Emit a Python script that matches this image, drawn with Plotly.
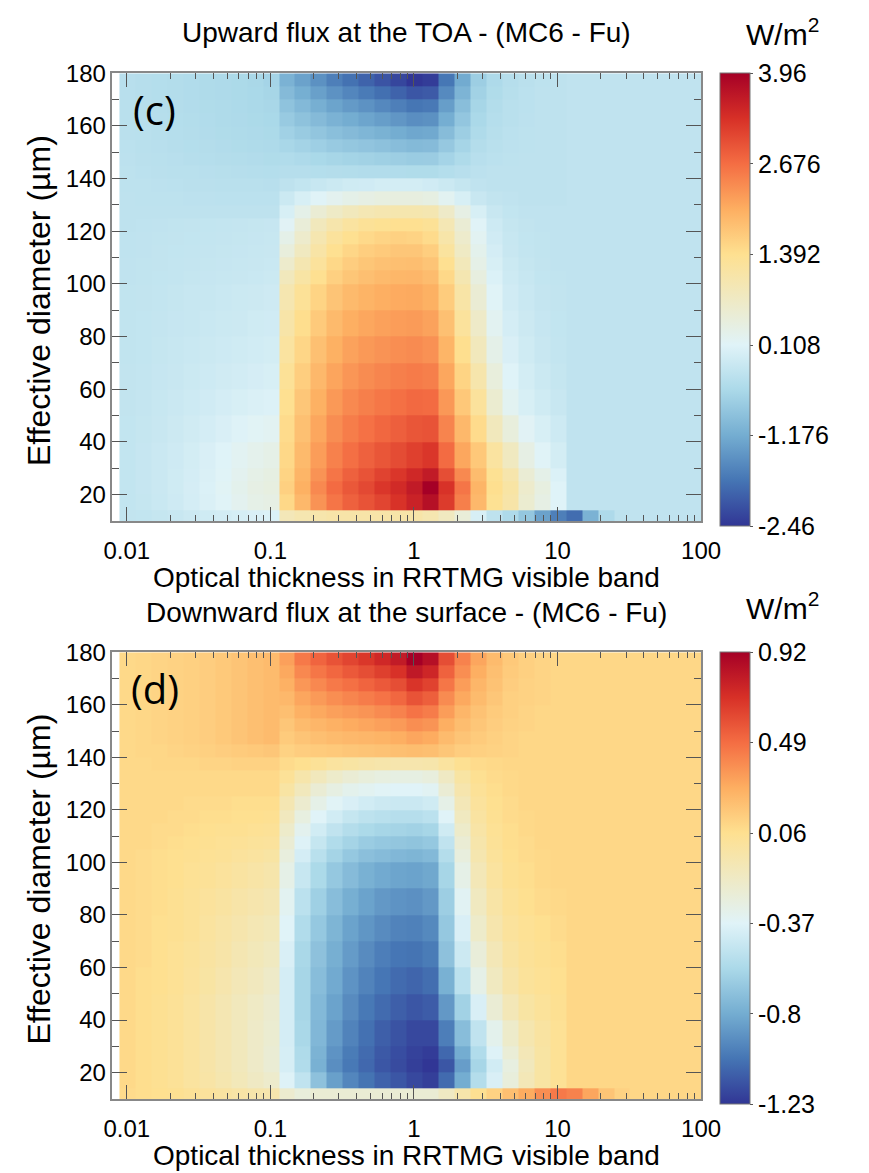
import numpy as np
import plotly.graph_objects as go

# ---------------------------------------------------------------------------
# Grid: optical thickness cells (9 per decade, given as cell edges) and
# effective-diameter rows (edges, in micrometres)
# ---------------------------------------------------------------------------
tau_edges = 10 ** (-2.051 + np.arange(38) / 9.0)
deff_edges = [10, 14, 20, 25, 30, 40, 50, 60, 70, 80, 90, 100,
              105, 110, 115, 120, 125, 130, 135, 140, 145, 150,
              155, 160, 165, 170, 175, 180]

# ---------------------------------------------------------------------------
# (c) TOA upward flux difference, W/m2.  Rows run from the smallest diameter
# to the largest; each row is split into thin / middle / thick tau columns.
# ---------------------------------------------------------------------------
toa_thin = [
    [-0.26, -0.25, -0.22, -0.18, -0.14, -0.10, -0.06, -0.02, 0.02, 0.05],
    [-0.25, -0.22, -0.17, -0.11, -0.04, 0.04, 0.12, 0.22, 0.32, 0.36],
    [-0.25, -0.21, -0.16, -0.10, -0.03, 0.05, 0.14, 0.25, 0.35, 0.40],
    [-0.25, -0.21, -0.16, -0.10, -0.04, 0.04, 0.12, 0.22, 0.32, 0.38],
    [-0.25, -0.21, -0.16, -0.11, -0.05, 0.02, 0.10, 0.18, 0.26, 0.32],
    [-0.25, -0.22, -0.18, -0.14, -0.09, -0.04, 0.02, 0.08, 0.14, 0.18],
    [-0.26, -0.23, -0.20, -0.16, -0.12, -0.08, -0.04, 0.00, 0.04, 0.06],
    [-0.26, -0.24, -0.21, -0.18, -0.15, -0.12, -0.09, -0.06, -0.03, 0.00],
    [-0.27, -0.25, -0.22, -0.20, -0.17, -0.15, -0.12, -0.10, -0.07, -0.05],
    [-0.27, -0.25, -0.23, -0.21, -0.19, -0.17, -0.15, -0.13, -0.10, -0.08],
    [-0.27, -0.26, -0.24, -0.22, -0.20, -0.19, -0.17, -0.15, -0.13, -0.11],
    [-0.28, -0.27, -0.25, -0.24, -0.22, -0.21, -0.20, -0.18, -0.17, -0.15],
    [-0.28, -0.27, -0.26, -0.24, -0.23, -0.22, -0.21, -0.20, -0.18, -0.17],
    [-0.29, -0.28, -0.26, -0.25, -0.24, -0.23, -0.22, -0.21, -0.20, -0.18],
    [-0.29, -0.28, -0.27, -0.26, -0.25, -0.24, -0.23, -0.22, -0.21, -0.20],
    [-0.30, -0.29, -0.28, -0.27, -0.26, -0.25, -0.24, -0.23, -0.22, -0.21],
    [-0.30, -0.30, -0.30, -0.30, -0.30, -0.30, -0.30, -0.30, -0.30, -0.30],
    [-0.30, -0.31, -0.32, -0.32, -0.33, -0.33, -0.34, -0.34, -0.34, -0.34],
    [-0.31, -0.32, -0.33, -0.34, -0.35, -0.35, -0.36, -0.37, -0.37, -0.38],
    [-0.32, -0.34, -0.35, -0.36, -0.37, -0.38, -0.39, -0.40, -0.41, -0.42],
    [-0.33, -0.35, -0.37, -0.38, -0.40, -0.41, -0.43, -0.44, -0.45, -0.47],
    [-0.34, -0.36, -0.38, -0.40, -0.42, -0.43, -0.45, -0.47, -0.48, -0.50],
    [-0.35, -0.37, -0.39, -0.41, -0.43, -0.45, -0.47, -0.49, -0.50, -0.52],
    [-0.36, -0.38, -0.40, -0.42, -0.44, -0.46, -0.48, -0.50, -0.52, -0.54],
    [-0.37, -0.39, -0.41, -0.43, -0.45, -0.47, -0.49, -0.51, -0.53, -0.56],
    [-0.38, -0.40, -0.42, -0.44, -0.46, -0.48, -0.50, -0.52, -0.54, -0.58],
    [-0.38, -0.40, -0.42, -0.44, -0.46, -0.48, -0.50, -0.52, -0.55, -0.60],
]
toa_mid = [
    [0.90, 1.00, 1.05, 1.10, 1.10, 1.10, 1.10, 1.10, 1.10, 1.00, 0.80, 0.50, 0.00, -0.30, -0.50, -0.80, -1.30, -1.70],
    [1.50, 1.90, 2.30, 2.60, 2.80, 2.95, 3.10, 3.30, 3.50, 3.75, 3.20, 2.50, 1.90, 1.35, 1.10, 0.60, 0.35, 0.10],
    [1.60, 2.00, 2.40, 2.70, 2.90, 3.05, 3.25, 3.40, 3.60, 3.96, 3.30, 2.60, 1.95, 1.40, 1.15, 0.65, 0.40, 0.10],
    [1.55, 1.95, 2.30, 2.60, 2.80, 2.95, 3.12, 3.25, 3.42, 3.60, 3.00, 2.40, 1.85, 1.35, 1.05, 0.55, 0.30, 0.05],
    [1.50, 1.88, 2.20, 2.48, 2.66, 2.80, 2.92, 3.02, 3.15, 3.25, 2.70, 2.10, 1.70, 1.20, 0.80, 0.35, 0.12, -0.05],
    [1.45, 1.80, 2.10, 2.36, 2.52, 2.64, 2.74, 2.82, 2.92, 2.95, 2.45, 1.90, 1.45, 0.85, 0.45, 0.15, 0.00, -0.12],
    [1.38, 1.72, 2.00, 2.24, 2.40, 2.50, 2.58, 2.65, 2.72, 2.70, 2.25, 1.70, 1.25, 0.60, 0.20, 0.00, -0.10, -0.18],
    [1.30, 1.62, 1.90, 2.12, 2.27, 2.37, 2.44, 2.50, 2.54, 2.50, 2.10, 1.55, 1.05, 0.45, 0.10, -0.05, -0.15, -0.22],
    [1.20, 1.52, 1.80, 2.00, 2.15, 2.24, 2.30, 2.35, 2.38, 2.32, 1.95, 1.40, 0.85, 0.30, 0.02, -0.10, -0.18, -0.24],
    [1.10, 1.42, 1.68, 1.88, 2.02, 2.10, 2.16, 2.20, 2.22, 2.15, 1.80, 1.25, 0.70, 0.20, -0.04, -0.14, -0.21, -0.25],
    [1.00, 1.30, 1.55, 1.75, 1.88, 1.96, 2.02, 2.06, 2.07, 2.00, 1.65, 1.12, 0.55, 0.12, -0.08, -0.17, -0.23, -0.26],
    [0.85, 1.15, 1.38, 1.60, 1.73, 1.82, 1.88, 1.92, 1.93, 1.86, 1.50, 0.98, 0.42, 0.05, -0.12, -0.20, -0.25, -0.27],
    [0.65, 0.98, 1.25, 1.50, 1.63, 1.73, 1.79, 1.82, 1.83, 1.75, 1.38, 0.87, 0.32, 0.00, -0.15, -0.22, -0.26, -0.28],
    [0.45, 0.80, 1.12, 1.38, 1.52, 1.62, 1.68, 1.72, 1.72, 1.62, 1.22, 0.75, 0.25, -0.04, -0.18, -0.24, -0.27, -0.28],
    [0.30, 0.65, 1.00, 1.25, 1.38, 1.48, 1.54, 1.58, 1.56, 1.45, 1.08, 0.65, 0.18, -0.08, -0.20, -0.25, -0.27, -0.28],
    [0.15, 0.50, 0.85, 1.05, 1.20, 1.30, 1.35, 1.38, 1.38, 1.32, 0.95, 0.55, 0.12, -0.12, -0.22, -0.26, -0.28, -0.28],
    [0.00, 0.30, 0.55, 0.72, 0.85, 0.95, 1.00, 1.02, 1.02, 0.98, 0.70, 0.35, 0.00, -0.18, -0.25, -0.28, -0.28, -0.28],
    [-0.15, 0.00, 0.12, 0.22, 0.30, 0.36, 0.40, 0.42, 0.42, 0.38, 0.20, 0.00, -0.18, -0.26, -0.28, -0.30, -0.30, -0.30],
    [-0.30, -0.25, -0.20, -0.15, -0.10, -0.08, -0.05, -0.05, -0.05, -0.08, -0.15, -0.22, -0.28, -0.30, -0.30, -0.30, -0.30, -0.30],
    [-0.40, -0.40, -0.42, -0.43, -0.44, -0.45, -0.45, -0.46, -0.47, -0.47, -0.42, -0.38, -0.33, -0.30, -0.30, -0.30, -0.30, -0.30],
    [-0.46, -0.50, -0.54, -0.58, -0.61, -0.64, -0.67, -0.70, -0.73, -0.72, -0.60, -0.48, -0.38, -0.34, -0.32, -0.30, -0.30, -0.30],
    [-0.56, -0.62, -0.68, -0.75, -0.80, -0.84, -0.89, -0.94, -0.99, -0.97, -0.78, -0.59, -0.43, -0.36, -0.33, -0.31, -0.30, -0.30],
    [-0.65, -0.74, -0.83, -0.92, -0.98, -1.05, -1.11, -1.18, -1.25, -1.22, -0.96, -0.70, -0.48, -0.39, -0.34, -0.32, -0.30, -0.30],
    [-0.76, -0.87, -0.98, -1.10, -1.18, -1.27, -1.35, -1.44, -1.53, -1.50, -1.16, -0.81, -0.53, -0.41, -0.36, -0.33, -0.30, -0.30],
    [-0.86, -1.00, -1.14, -1.28, -1.39, -1.49, -1.60, -1.70, -1.81, -1.77, -1.35, -0.93, -0.58, -0.44, -0.37, -0.34, -0.30, -0.30],
    [-0.98, -1.15, -1.32, -1.49, -1.62, -1.75, -1.87, -2.00, -2.13, -2.09, -1.58, -1.07, -0.64, -0.47, -0.39, -0.34, -0.30, -0.30],
    [-1.10, -1.30, -1.50, -1.70, -1.85, -2.00, -2.15, -2.30, -2.46, -2.40, -1.80, -1.20, -0.70, -0.50, -0.40, -0.35, -0.32, -0.30],
]
toa_thick = [[-1.90, -1.10, -0.50, -0.32, -0.28, -0.28, -0.28, -0.28, -0.28]] + \
            [[-0.28, -0.28, -0.28, -0.28, -0.28, -0.28, -0.28, -0.28, -0.28] for _ in range(26)]

# ---------------------------------------------------------------------------
# (d) Surface downward flux difference, W/m2 (same layout as above)
# ---------------------------------------------------------------------------
sfc_thin = [
    [0.08, 0.07, 0.06, 0.05, 0.03, 0.01, -0.01, -0.03, -0.05, -0.06],
    [0.09, 0.07, 0.05, 0.03, 0.00, -0.03, -0.07, -0.11, -0.15, -0.19],
    [0.09, 0.07, 0.05, 0.03, 0.00, -0.04, -0.08, -0.12, -0.17, -0.22],
    [0.09, 0.07, 0.05, 0.03, 0.00, -0.04, -0.08, -0.12, -0.17, -0.22],
    [0.09, 0.07, 0.05, 0.03, 0.00, -0.04, -0.08, -0.12, -0.17, -0.21],
    [0.09, 0.07, 0.05, 0.03, 0.00, -0.04, -0.08, -0.12, -0.16, -0.20],
    [0.09, 0.07, 0.06, 0.04, 0.01, -0.02, -0.06, -0.10, -0.13, -0.17],
    [0.09, 0.08, 0.06, 0.04, 0.02, -0.01, -0.04, -0.08, -0.11, -0.14],
    [0.09, 0.08, 0.06, 0.05, 0.03, 0.00, -0.03, -0.06, -0.09, -0.11],
    [0.09, 0.08, 0.07, 0.05, 0.03, 0.01, -0.01, -0.04, -0.06, -0.08],
    [0.09, 0.08, 0.07, 0.06, 0.04, 0.03, 0.01, -0.01, -0.03, -0.05],
    [0.09, 0.08, 0.07, 0.06, 0.05, 0.04, 0.03, 0.01, 0.00, -0.02],
    [0.09, 0.09, 0.08, 0.07, 0.06, 0.05, 0.04, 0.03, 0.02, 0.01],
    [0.09, 0.09, 0.08, 0.08, 0.07, 0.06, 0.05, 0.05, 0.04, 0.03],
    [0.09, 0.09, 0.09, 0.08, 0.08, 0.07, 0.07, 0.06, 0.06, 0.05],
    [0.09, 0.09, 0.09, 0.09, 0.08, 0.08, 0.08, 0.07, 0.07, 0.07],
    [0.09, 0.09, 0.09, 0.09, 0.09, 0.09, 0.09, 0.09, 0.09, 0.09],
    [0.09, 0.09, 0.09, 0.09, 0.09, 0.09, 0.09, 0.09, 0.09, 0.09],
    [0.09, 0.09, 0.10, 0.10, 0.10, 0.11, 0.11, 0.12, 0.12, 0.12],
    [0.09, 0.10, 0.10, 0.11, 0.12, 0.13, 0.14, 0.15, 0.16, 0.17],
    [0.09, 0.10, 0.11, 0.12, 0.13, 0.14, 0.16, 0.18, 0.20, 0.22],
    [0.09, 0.10, 0.11, 0.12, 0.13, 0.14, 0.16, 0.18, 0.20, 0.22],
    [0.09, 0.10, 0.11, 0.12, 0.13, 0.14, 0.16, 0.18, 0.20, 0.22],
    [0.09, 0.10, 0.11, 0.12, 0.13, 0.14, 0.16, 0.18, 0.20, 0.22],
    [0.09, 0.10, 0.11, 0.12, 0.13, 0.14, 0.16, 0.18, 0.20, 0.22],
    [0.09, 0.10, 0.11, 0.12, 0.13, 0.14, 0.16, 0.18, 0.20, 0.22],
    [0.09, 0.10, 0.11, 0.12, 0.13, 0.14, 0.16, 0.18, 0.20, 0.22],
]
sfc_mid = [
    [-0.20, -0.25, -0.22, -0.22, -0.22, -0.22, -0.22, -0.22, -0.22, -0.22, -0.15, -0.05, 0.05, 0.12, 0.20, 0.28, 0.38, 0.45],
    [-0.38, -0.50, -0.70, -0.85, -0.95, -1.02, -1.08, -1.12, -1.17, -1.20, -1.05, -0.80, -0.55, -0.40, -0.25, -0.10, -0.02, 0.04],
    [-0.41, -0.56, -0.78, -0.92, -1.00, -1.06, -1.12, -1.16, -1.20, -1.23, -1.12, -0.86, -0.60, -0.43, -0.27, -0.12, -0.02, 0.04],
    [-0.41, -0.57, -0.77, -0.90, -0.99, -1.05, -1.11, -1.15, -1.19, -1.21, -1.06, -0.80, -0.56, -0.38, -0.23, -0.10, -0.02, 0.04],
    [-0.42, -0.59, -0.75, -0.87, -0.96, -1.03, -1.09, -1.13, -1.17, -1.17, -0.98, -0.72, -0.50, -0.32, -0.18, -0.07, -0.01, 0.04],
    [-0.42, -0.60, -0.74, -0.84, -0.93, -1.00, -1.05, -1.09, -1.12, -1.10, -0.88, -0.62, -0.40, -0.22, -0.10, -0.02, 0.02, 0.05],
    [-0.42, -0.60, -0.72, -0.81, -0.90, -0.96, -1.01, -1.05, -1.07, -1.04, -0.78, -0.52, -0.30, -0.14, -0.04, 0.02, 0.04, 0.06],
    [-0.40, -0.59, -0.70, -0.79, -0.87, -0.93, -0.98, -1.01, -1.02, -0.99, -0.70, -0.45, -0.24, -0.10, -0.01, 0.03, 0.05, 0.07],
    [-0.37, -0.56, -0.67, -0.76, -0.84, -0.89, -0.93, -0.96, -0.97, -0.94, -0.67, -0.40, -0.18, -0.06, 0.01, 0.04, 0.06, 0.08],
    [-0.34, -0.52, -0.63, -0.72, -0.79, -0.84, -0.88, -0.90, -0.91, -0.88, -0.64, -0.35, -0.14, -0.03, 0.03, 0.06, 0.08, 0.09],
    [-0.30, -0.47, -0.58, -0.67, -0.73, -0.78, -0.81, -0.83, -0.84, -0.82, -0.60, -0.30, -0.10, 0.00, 0.05, 0.07, 0.09, 0.10],
    [-0.26, -0.42, -0.53, -0.61, -0.67, -0.71, -0.73, -0.75, -0.76, -0.74, -0.55, -0.26, -0.07, 0.02, 0.06, 0.08, 0.09, 0.10],
    [-0.22, -0.38, -0.48, -0.56, -0.61, -0.65, -0.67, -0.68, -0.69, -0.67, -0.50, -0.22, -0.05, 0.03, 0.07, 0.08, 0.10, 0.10],
    [-0.18, -0.33, -0.43, -0.50, -0.55, -0.58, -0.60, -0.61, -0.62, -0.60, -0.44, -0.18, -0.03, 0.04, 0.07, 0.09, 0.10, 0.10],
    [-0.13, -0.27, -0.37, -0.43, -0.48, -0.51, -0.53, -0.54, -0.54, -0.52, -0.37, -0.14, -0.01, 0.05, 0.08, 0.09, 0.10, 0.10],
    [-0.08, -0.20, -0.30, -0.36, -0.40, -0.43, -0.45, -0.46, -0.46, -0.44, -0.30, -0.10, 0.01, 0.06, 0.08, 0.10, 0.10, 0.10],
    [-0.02, -0.12, -0.22, -0.28, -0.32, -0.34, -0.36, -0.37, -0.37, -0.35, -0.22, -0.06, 0.03, 0.07, 0.09, 0.10, 0.10, 0.10],
    [0.03, -0.05, -0.12, -0.18, -0.22, -0.25, -0.27, -0.28, -0.28, -0.26, -0.15, -0.02, 0.05, 0.08, 0.09, 0.10, 0.10, 0.10],
    [0.08, 0.06, 0.03, 0.00, -0.02, -0.04, -0.05, -0.06, -0.06, -0.05, 0.00, 0.05, 0.08, 0.09, 0.10, 0.10, 0.10, 0.10],
    [0.12, 0.14, 0.15, 0.16, 0.17, 0.18, 0.19, 0.20, 0.21, 0.20, 0.17, 0.14, 0.13, 0.12, 0.11, 0.10, 0.10, 0.10],
    [0.15, 0.18, 0.20, 0.22, 0.23, 0.24, 0.25, 0.27, 0.30, 0.28, 0.22, 0.18, 0.15, 0.13, 0.11, 0.10, 0.10, 0.10],
    [0.17, 0.22, 0.24, 0.26, 0.28, 0.30, 0.32, 0.34, 0.38, 0.36, 0.27, 0.21, 0.17, 0.14, 0.12, 0.11, 0.10, 0.10],
    [0.20, 0.26, 0.29, 0.32, 0.34, 0.36, 0.39, 0.42, 0.47, 0.44, 0.33, 0.24, 0.19, 0.15, 0.13, 0.11, 0.10, 0.10],
    [0.23, 0.30, 0.34, 0.38, 0.41, 0.44, 0.47, 0.51, 0.58, 0.54, 0.39, 0.29, 0.22, 0.17, 0.13, 0.12, 0.11, 0.10],
    [0.26, 0.35, 0.40, 0.45, 0.48, 0.52, 0.56, 0.60, 0.69, 0.64, 0.46, 0.33, 0.24, 0.19, 0.14, 0.12, 0.11, 0.10],
    [0.29, 0.40, 0.46, 0.51, 0.56, 0.60, 0.65, 0.70, 0.81, 0.75, 0.53, 0.38, 0.27, 0.20, 0.15, 0.13, 0.11, 0.10],
    [0.32, 0.45, 0.52, 0.58, 0.63, 0.68, 0.74, 0.80, 0.92, 0.85, 0.60, 0.42, 0.30, 0.22, 0.16, 0.13, 0.11, 0.10],
]
sfc_thick = [[0.42, 0.30, 0.18, 0.12, 0.10, 0.10, 0.10, 0.10, 0.10]] + \
            [[0.10, 0.10, 0.10, 0.10, 0.10, 0.10, 0.10, 0.10, 0.10] for _ in range(26)]

# Colour-bar limits and labels
toa_range = (-2.46, 3.96)
toa_ticktext = ["-2.46", "-1.176", "0.108", "1.392", "2.676", "3.96"]
sfc_range = (-1.23, 0.92)
sfc_ticktext = ["-1.23", "-0.8", "-0.37", "0.06", "0.49", "0.92"]

x_ticks = [0.01, 0.1, 1, 10, 100]
x_ticktext = ["0.01", "0.1", "1", "10", "100"]
y_ticks = [20, 40, 60, 80, 100, 120, 140, 160, 180]

titles = ["Upward flux at the TOA - (MC6 - Fu)",
          "Downward flux at the surface - (MC6 - Fu)"]
panel_tags = ["(c)", "(d)"]
x_title = "Optical thickness in RRTMG visible band"
y_title = "Effective diameter (\u00b5m)"
units = "W/m<sup>2</sup>"

# RdYlBu reversed, without the pale-yellow centre colour
colorscale = [
    [0.0, "#313695"], [0.1, "#4575b4"], [0.2, "#74add1"], [0.3, "#abd9e9"],
    [0.4, "#e0f3f8"], [0.6, "#fee090"], [0.7, "#fdae61"], [0.8, "#f46d43"],
    [0.9, "#d73027"], [1.0, "#a50026"],
]

W, H = 869, 1173
FONT = "Liberation Sans, Arial, sans-serif"


def px_x(p):
    return p / W


def px_y(p):
    return 1 - p / H


def join(thin, mid, thick):
    return np.array([a + b + c for a, b, c in zip(thin, mid, thick)])


panels = [
    dict(z=join(toa_thin, toa_mid, toa_thick), rng=toa_range, ticktext=toa_ticktext,
         top=60, bottom=513, title_y=19, units_y=18),
    dict(z=join(sfc_thin, sfc_mid, sfc_thick), rng=sfc_range, ticktext=sfc_ticktext,
         top=646, bottom=1098, title_y=606, units_y=599),
]

plot_left, plot_right = 107, 716
cb_left = 736

minor_x = [m * 10.0 ** e for e in range(-2, 2) for m in range(2, 10)]

fig = go.Figure()
annotations = []
for i, p in enumerate(panels):
    sfx = "" if i == 0 else str(i + 1)
    zmin, zmax = p["rng"]
    tickvals = list(np.linspace(zmin, zmax, 6))
    fig.add_trace(go.Heatmap(
        x=tau_edges, y=deff_edges, z=p["z"],
        xaxis="x" + sfx, yaxis="y" + sfx,
        colorscale=colorscale, zmin=zmin, zmax=zmax,
        colorbar=dict(
            x=px_x(cb_left), xanchor="left", xref="paper", xpad=0,
            y=px_y(p["top"]), yanchor="top", yref="paper", ypad=0,
            lenmode="pixels", len=p["bottom"] - p["top"],
            thickness=30, thicknessmode="pixels",
            outlinecolor="#777", outlinewidth=1,
            tickvals=tickvals, ticktext=p["ticktext"],
            ticks="outside", ticklen=3, tickcolor="#555",
            tickfont=dict(family=FONT, size=25, color="#000"),
        ),
        hoverinfo="skip",
    ))
    dom_y = [px_y(p["bottom"]), px_y(p["top"])]
    axis_common = dict(showline=True, linecolor="#888", linewidth=1.5, mirror="ticks",
                       ticks="inside", tickcolor="#555", tickwidth=1.2,
                       showgrid=False, zeroline=False,
                       tickfont=dict(family=FONT, size=24, color="#000"))
    fig.update_layout(**{
        "xaxis" + sfx: dict(
            axis_common, type="log", range=[-2.1, 2.0],
            domain=[px_x(plot_left), px_x(plot_right)], anchor="y" + sfx,
            tickvals=x_ticks, ticktext=x_ticktext, ticklen=14,
            ticklabelstandoff=8,
            minor=dict(tickvals=minor_x, ticks="inside", ticklen=6,
                       tickcolor="#555", showgrid=False),
        ),
        "yaxis" + sfx: dict(
            axis_common, range=[10, 180], domain=dom_y, anchor="x" + sfx,
            tickvals=y_ticks, ticklen=15,
            minor=dict(dtick=10, tick0=10, ticks="inside", ticklen=7,
                       tickcolor="#555", showgrid=False),
        ),
    })
    annotations += [
        dict(text=titles[i], x=px_x((plot_left + plot_right) / 2), y=px_y(p["title_y"]),
             font=dict(family=FONT, size=28, color="#000")),
        dict(text=units, x=px_x(800), y=px_y(p["units_y"]),
             font=dict(family=FONT, size=30, color="#000")),
        dict(text=panel_tags[i], x=px_x(151), y=px_y(p["top"] + 37),
             font=dict(family="Open Sans, sans-serif", size=40, color="#000")),
        dict(text=x_title, x=px_x((plot_left + plot_right) / 2), y=px_y(p["bottom"] + 57),
             font=dict(family=FONT, size=28, color="#000")),
        dict(text=y_title, x=px_x(31), y=px_y((p["top"] + p["bottom"]) / 2 + 3), textangle=-90,
             font=dict(family=FONT, size=32, color="#000")),
    ]

for a in annotations:
    a.update(xref="paper", yref="paper", showarrow=False,
             xanchor="center", yanchor="middle")

fig.update_layout(
    width=W, height=H, margin=dict(l=0, r=0, t=0, b=0),
    paper_bgcolor="white", plot_bgcolor="white",
    annotations=annotations, showlegend=False,
)

fig.write_html("out.html")
